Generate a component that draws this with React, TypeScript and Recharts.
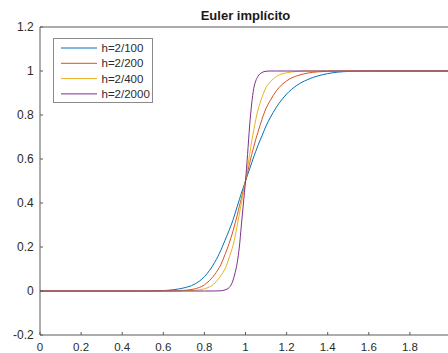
import React from 'react';
import { LineChart, Line, XAxis, YAxis, Legend } from 'recharts';

// x positions (denser around the jump at x = 1)
const X = [
  0, 0.5, 0.6, 0.65, 0.7, 0.75, 0.8, 0.85,
  0.88, 0.9, 0.92, 0.94, 0.95, 0.96, 0.97, 0.98, 0.99,
  1.0, 1.01, 1.02, 1.03, 1.04, 1.05, 1.06, 1.08,
  1.1, 1.12, 1.15, 1.2, 1.25, 1.3, 1.35, 1.4,
  1.45, 1.5, 1.6, 2.0,
];

const H100 = [
  0, 0, 0.002, 0.006, 0.014, 0.03, 0.065, 0.13,
  0.185, 0.23, 0.275, 0.325, 0.355, 0.385, 0.415, 0.445, 0.472,
  0.5, 0.528, 0.555, 0.582, 0.61, 0.635, 0.66, 0.705,
  0.75, 0.787, 0.835, 0.895, 0.935, 0.96, 0.977, 0.988,
  0.995, 0.998, 1, 1,
];

const H200 = [
  0, 0, 0, 0.001, 0.003, 0.009, 0.028, 0.075,
  0.12, 0.165, 0.215, 0.275, 0.31, 0.345, 0.385, 0.42, 0.46,
  0.5, 0.54, 0.58, 0.62, 0.655, 0.69, 0.72, 0.78,
  0.83, 0.865, 0.91, 0.955, 0.978, 0.99, 0.996, 0.999,
  1, 1, 1, 1,
];

const H400 = [
  0, 0, 0, 0, 0.001, 0.003, 0.01, 0.035,
  0.07, 0.1, 0.15, 0.21, 0.25, 0.3, 0.35, 0.4, 0.45,
  0.5, 0.56, 0.62, 0.68, 0.73, 0.78, 0.82, 0.88,
  0.925, 0.95, 0.975, 0.992, 0.998, 1, 1, 1,
  1, 1, 1, 1,
];

const H2000 = [
  0, 0, 0, 0, 0, 0, 0, 0,
  0.001, 0.005, 0.015, 0.05, 0.085, 0.13, 0.2, 0.3, 0.4,
  0.5, 0.62, 0.75, 0.85, 0.92, 0.955, 0.975, 0.993,
  0.999, 1, 1, 1, 1, 1, 1, 1,
  1, 1, 1, 1,
];

const SERIES = [
  { key: 'h100', name: 'h=2/100', color: '#0072BD', values: H100 },
  { key: 'h200', name: 'h=2/200', color: '#D95319', values: H200 },
  { key: 'h400', name: 'h=2/400', color: '#EDB120', values: H400 },
  { key: 'h2000', name: 'h=2/2000', color: '#7E2F8E', values: H2000 },
];

const X_TICKS = [0, 0.2, 0.4, 0.6, 0.8, 1, 1.2, 1.4, 1.6, 1.8, 2];
const Y_TICKS = [-0.2, 0, 0.2, 0.4, 0.6, 0.8, 1, 1.2];

const TITLE = 'Euler implícito';

const data = X.map((x, i) => {
  const row: Record<string, number> = { x };
  SERIES.forEach((s) => {
    row[s.key] = s.values[i];
  });
  return row;
});

const FONT = '"Liberation Sans", Arial, Helvetica, sans-serif';
const AXIS = '#5a5a5a';
const TEXT = '#2b2b2b';

const LegendBox = () => (
  <svg width={100} height={65} style={{ display: 'block' }}>
    <rect x={0.5} y={0.5} width={99} height={64} fill="#fff" stroke="#8a8a8a" />
    {SERIES.map((s, i) => (
      <g key={s.key}>
        <line x1={8} x2={44} y1={10 + i * 15.3} y2={10 + i * 15.3} stroke={s.color} strokeWidth={1} />
        <text
          x={48.5}
          y={10 + i * 15.3}
          dominantBaseline="central"
          fontFamily={FONT}
          fontSize={11.5}
          fill={TEXT}
        >
          {s.name}
        </text>
      </g>
    ))}
  </svg>
);

const tickStyle = { fontFamily: FONT, fontSize: 12, fill: TEXT };

export default function App() {
  return (
    <div
      style={{
        position: 'fixed',
        left: 0,
        top: 0,
        width: 448,
        height: 353,
        overflow: 'hidden',
        background: '#fff',
      }}
    >
      <svg width={448} height={30} style={{ position: 'absolute', left: 0, top: 0 }}>
        <text
          x={245.5}
          y={19.5}
          textAnchor="middle"
          fontFamily={FONT}
          fontSize={13}
          fontWeight="bold"
          fill="#1a1a1a"
        >
          {TITLE}
        </text>
      </svg>
      <LineChart
        width={460}
        height={353}
        data={data}
        margin={{ top: 26, right: 8, bottom: 0, left: 0 }}
      >
        <XAxis
          xAxisId="bottom"
          dataKey="x"
          type="number"
          domain={[0, 2]}
          ticks={X_TICKS}
          interval={0}
          height={18}
          tickSize={-3}
          tickMargin={11}
          stroke={AXIS}
          tick={{ ...tickStyle, fontSize: 11.5 }}
          allowDataOverflow
        />
        <XAxis
          xAxisId="top"
          orientation="top"
          dataKey="x"
          type="number"
          domain={[0, 2]}
          ticks={X_TICKS}
          interval={0}
          height={1}
          tickSize={-3}
          tick={false}
          stroke={AXIS}
        />
        <YAxis
          yAxisId="left"
          type="number"
          domain={[-0.2, 1.2]}
          ticks={Y_TICKS}
          interval={0}
          width={40}
          tickSize={-3}
          tickMargin={9.3}
          stroke={AXIS}
          tick={tickStyle}
          allowDataOverflow
        />
        <YAxis
          yAxisId="right"
          orientation="right"
          type="number"
          domain={[-0.2, 1.2]}
          ticks={Y_TICKS}
          interval={0}
          width={1}
          tickSize={-3}
          tick={false}
          stroke={AXIS}
        />
        <Legend
          layout="vertical"
          align="center"
          verticalAlign="middle"
          wrapperStyle={{ top: 38, left: 53, width: 100, height: 65 }}
          content={() => <LegendBox />}
        />
        {SERIES.map((s) => (
          <Line
            key={s.key}
            xAxisId="bottom"
            yAxisId="left"
            dataKey={s.key}
            name={s.name}
            type="monotone"
            stroke={s.color}
            strokeWidth={1}
            dot={false}
            activeDot={false}
            isAnimationActive={false}
          />
        ))}
      </LineChart>
    </div>
  );
}
